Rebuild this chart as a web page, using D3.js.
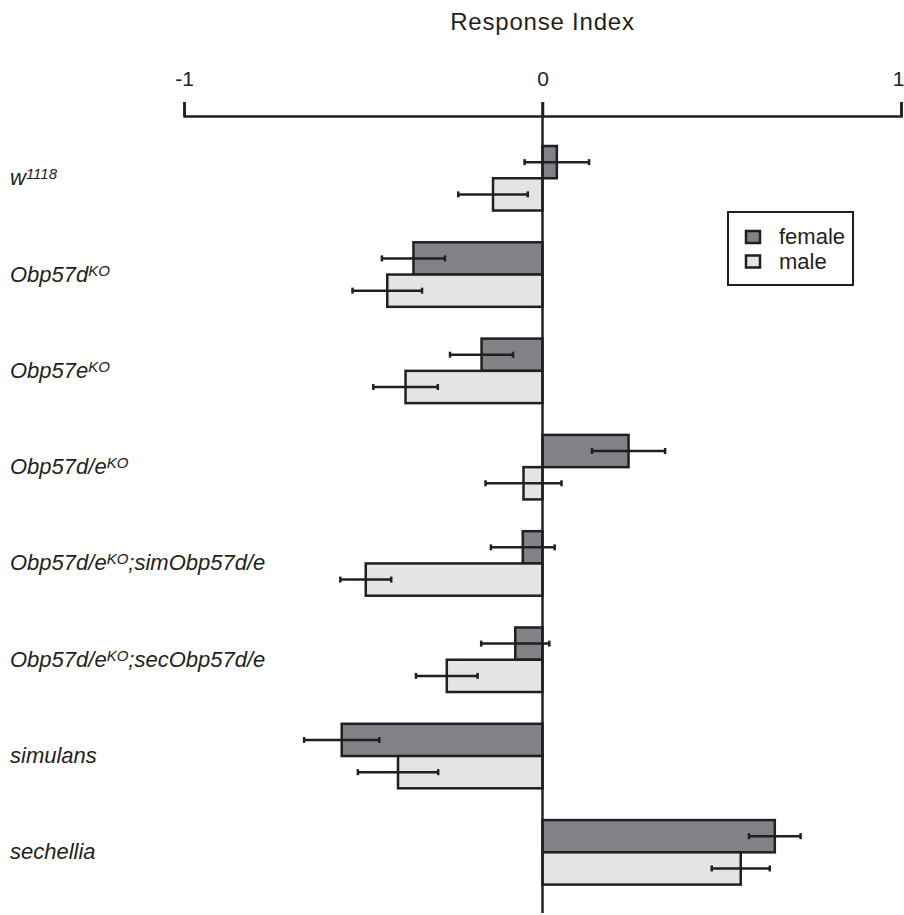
<!DOCTYPE html>
<html>
<head>
<meta charset="utf-8">
<script src="https://cdn.jsdelivr.net/npm/d3@7"></script>
<style>
  body { margin: 0; background: #fff; }
  svg { font-family: "Liberation Sans", Arial, Helvetica, sans-serif; }
  .label { font-style: italic; font-size: 22px; fill: #231f20; }
</style>
</head>
<body>
<div id="chart"></div>
<script>
// genotypes, top to bottom; ^{..} marks a superscript
var categories = ["w^{1118}", "Obp57d^{KO}", "Obp57e^{KO}", "Obp57d/e^{KO}",
  "Obp57d/e^{KO};simObp57d/e", "Obp57d/e^{KO};secObp57d/e", "simulans", "sechellia"];
var sexes = ["female", "male"];
var femaleMean = [0.04, -0.36, -0.17, 0.24, -0.055, -0.076, -0.56, 0.648];
var femaleErr = [0.09, 0.088, 0.088, 0.102, 0.089, 0.095, 0.105, 0.072];
var maleMean = [-0.138, -0.433, -0.382, -0.053, -0.493, -0.267, -0.403, 0.553];
var maleErr = [0.097, 0.097, 0.09, 0.106, 0.071, 0.086, 0.112, 0.081];
var xTicks = [-1, 0, 1];

var w = 904, h = 915;
var ink = "#231f20";
var color = d3.scaleOrdinal().domain(sexes).range(["#808285", "#e3e4e5"]);

var x = d3.scaleLinear().domain([-1, 1]).range([184, 901]);
var y = d3.scaleBand().domain(categories).range([146, 884.6]).paddingInner(0.33).paddingOuter(0);
var ySex = d3.scaleBand().domain(sexes).range([0, y.bandwidth()]);

var rows = categories.map(function(c, i) {
  return {
    name: c,
    bars: [
      { sex: "female", value: femaleMean[i], err: femaleErr[i] },
      { sex: "male", value: maleMean[i], err: maleErr[i] }
    ]
  };
});

var svg = d3.select("#chart").append("svg").attr("width", w).attr("height", h);

svg.append("text").attr("x", x(0)).attr("y", 30).attr("text-anchor", "middle")
  .style("font-size", "24px").style("letter-spacing", "0.8px").attr("fill", ink)
  .text("Response Index");

// top axis
var axis = svg.append("g").attr("transform", "translate(0,116)")
  .call(d3.axisTop(x).tickValues(xTicks).tickFormat(d3.format("d")).tickSizeInner(14).tickSizeOuter(14).tickPadding(16));
axis.select(".domain").attr("stroke", ink).attr("stroke-width", 2.5);
axis.selectAll(".tick line").attr("stroke", ink).attr("stroke-width", 2.5);
axis.selectAll(".tick text").attr("fill", ink).style("font-size", "21px").style("font-family", "Liberation Sans, Arial, sans-serif")
  .attr("text-anchor", function(d) { return d === 1 ? "end" : "middle"; })
  .attr("x", function(d) { return d === 1 ? 3 : 0; })
  .text(function(d) { return d < 0 ? "-" + Math.abs(d) : d; });

var group = svg.selectAll("g.row").data(rows).enter().append("g").attr("class", "row")
  .attr("transform", function(d) { return "translate(0," + y(d.name) + ")"; });

group.selectAll("rect").data(function(d) { return d.bars; }).enter().append("rect")
  .attr("x", function(d) { return Math.min(x(0), x(d.value)); })
  .attr("width", function(d) { return Math.abs(x(d.value) - x(0)); })
  .attr("y", function(d) { return ySex(d.sex); })
  .attr("height", ySex.bandwidth())
  .attr("fill", function(d) { return color(d.sex); })
  .attr("stroke", ink).attr("stroke-width", 2.5);

// zero line
svg.append("line").attr("x1", x(0)).attr("x2", x(0)).attr("y1", 102).attr("y2", 913)
  .attr("stroke", ink).attr("stroke-width", 2.5);

// error bars
var eb = group.selectAll("g.err").data(function(d) { return d.bars; }).enter().append("g").attr("class", "err")
  .attr("transform", function(d) { return "translate(0," + (ySex(d.sex) + ySex.bandwidth() / 2) + ")"; });
eb.append("line")
  .attr("x1", function(d) { return x(d.value - d.err); })
  .attr("x2", function(d) { return x(d.value + d.err); })
  .attr("stroke", ink).attr("stroke-width", 2.5);
eb.selectAll("line.cap").data(function(d) { return [d.value - d.err, d.value + d.err]; }).enter().append("line")
  .attr("class", "cap")
  .attr("x1", function(v) { return x(v); }).attr("x2", function(v) { return x(v); })
  .attr("y1", -3).attr("y2", 3)
  .attr("stroke", ink).attr("stroke-width", 2.5);

// row labels with superscripts
var label = group.append("text").attr("class", "label").attr("x", 10)
  .attr("y", y.bandwidth() / 2 + 7);
label.each(function(d) {
  var t = d3.select(this);
  var parts = d.name.split(/(\^\{[^}]*\})/).filter(function(p) { return p.length; });
  var raised = false;
  parts.forEach(function(p) {
    if (p.charAt(0) === "^") {
      t.append("tspan").attr("dy", -6).style("font-size", "15px").text(p.slice(2, -1));
      raised = true;
    } else {
      t.append("tspan").attr("dy", raised ? 6 : 0).text(p);
      raised = false;
    }
  });
});

// legend
var legend = svg.append("g").attr("transform", "translate(728,212)");
legend.append("rect").attr("width", 125).attr("height", 73)
  .attr("fill", "none").attr("stroke", ink).attr("stroke-width", 2);
var item = legend.selectAll("g.item").data(sexes).enter().append("g").attr("class", "item")
  .attr("transform", function(d, i) { return "translate(18," + (19 + i * 24.5) + ")"; });
item.append("rect").attr("width", 14).attr("height", 12)
  .attr("fill", function(d) { return color(d); }).attr("stroke", ink).attr("stroke-width", 2.5);
item.append("text").attr("x", 33).attr("y", 13).style("font-size", "22px").attr("fill", ink)
  .text(function(d) { return d; });
</script>
</body>
</html>
